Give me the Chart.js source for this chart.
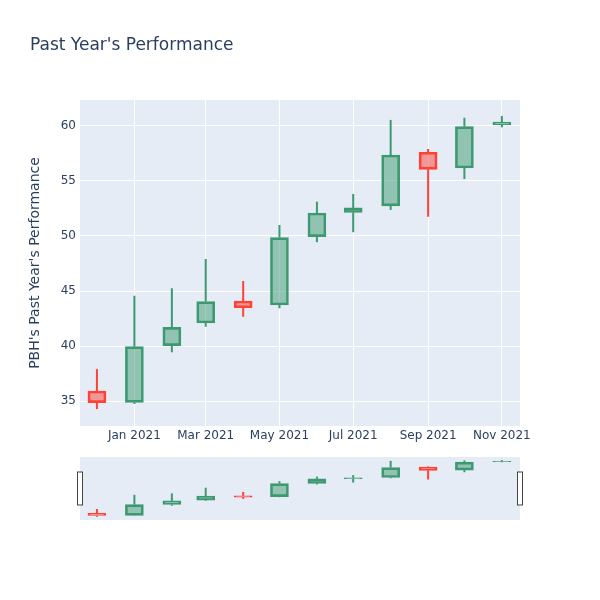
<!DOCTYPE html>
<html>
<head>
<meta charset="utf-8">
<script src="https://cdn.jsdelivr.net/npm/chart.js@4.4.0/dist/chart.umd.min.js"></script>
<style>
    body { margin: 0; background: #fff; }
    #wrap { position: relative; width: 600px; height: 600px; font-family: "DejaVu Sans", sans-serif; }
    #main { position: absolute; left: 0; top: 0; }
    #slider { position: absolute; left: 0; top: 450px; }
    #title { position: absolute; left: 30px; top: 32px; font-size: 17px; line-height: 24px; color: #2a3f5f; }
</style>
</head>
<body>
<div id="wrap">
    <canvas id="main" width="600" height="450" style="width:600px;height:450px"></canvas>
    <canvas id="slider" width="600" height="80" style="width:600px;height:80px"></canvas>
    <div id="title">Past Year's Performance</div>
</div>
<script>
// Monthly OHLC values for PBH
const dates  = ['2020-12-01', '2021-01-01', '2021-02-01', '2021-03-01', '2021-04-01', '2021-05-01',
                '2021-06-01', '2021-07-01', '2021-08-01', '2021-09-01', '2021-10-01', '2021-11-01'];
const opens  = [35.91, 34.88, 40.03, 42.09, 44.09, 43.73, 49.94, 52.15, 52.73, 57.61, 56.18, 60.12];
const highs  = [37.90, 44.57, 45.25, 47.91, 45.91, 51.00, 53.12, 53.82, 60.55, 57.91, 60.75, 60.91];
const lows   = [34.27, 34.73, 39.43, 41.75, 42.66, 43.43, 49.43, 50.34, 52.36, 51.75, 55.18, 59.88];
const closes = [34.85, 39.94, 41.70, 44.03, 43.48, 49.85, 52.09, 52.55, 57.36, 56.06, 59.94, 60.36];

// Axis ticks and ranges
const yTicks = [35, 40, 45, 50, 55, 60];
const xTickDates  = ['2021-01-01', '2021-03-01', '2021-05-01', '2021-07-01', '2021-09-01', '2021-11-01'];
const xTickLabels = ['Jan 2021', 'Mar 2021', 'May 2021', 'Jul 2021', 'Sep 2021', 'Nov 2021'];
const xRange = ['2020-11-17', '2021-11-16'];
const yRange = [32.73, 62.36];

const UP = '#3D9970', DOWN = '#FF4136';
const UP_FILL = 'rgba(61,153,112,0.5)', DOWN_FILL = 'rgba(255,65,54,0.5)';
const TEXT = '#2a3f5f';

Chart.defaults.font.family = '"DejaVu Sans", sans-serif';

const xs = dates.map(d => Date.parse(d));
const isUp = i => closes[i] >= opens[i];

function candleSets(bodyW, wickW) {
    const lineColor = ctx => isUp(ctx.dataIndex) ? UP : DOWN;
    return [
        {
            data: xs.map((x, i) => ({ x: x, y: [Math.min(opens[i], closes[i]), Math.max(opens[i], closes[i])] })),
            backgroundColor: ctx => isUp(ctx.dataIndex) ? UP_FILL : DOWN_FILL,
            borderColor: lineColor,
            borderWidth: 2,
            borderSkipped: false,
            barThickness: bodyW,
            grouped: false
        },
        {
            data: xs.map((x, i) => ({ x: x, y: [Math.max(opens[i], closes[i]), highs[i]] })),
            backgroundColor: lineColor,
            borderWidth: 0,
            inflateAmount: 0,
            barThickness: wickW,
            grouped: false
        },
        {
            data: xs.map((x, i) => ({ x: x, y: [lows[i], Math.min(opens[i], closes[i])] })),
            backgroundColor: lineColor,
            borderWidth: 0,
            inflateAmount: 0,
            barThickness: wickW,
            grouped: false
        }
    ];
}

// plot background colour
const plotBg = {
    id: 'plotBg',
    beforeDraw(chart) {
        const { ctx, chartArea: a } = chart;
        ctx.save();
        ctx.fillStyle = '#E5ECF6';
        ctx.fillRect(a.left, a.top, a.width, a.height);
        ctx.restore();
    }
};

// range slider grab handles
const sliderHandles = {
    id: 'sliderHandles',
    afterDraw(chart) {
        const { ctx, chartArea: a } = chart;
        const mid = (a.top + a.bottom) / 2;
        ctx.save();
        ctx.fillStyle = '#fff';
        ctx.strokeStyle = '#444';
        ctx.lineWidth = 1;
        [a.left, a.right].forEach(x => {
            ctx.fillRect(x - 2, mid - 16, 4, 32);
            ctx.strokeRect(x - 2.5, mid - 16.5, 5, 33);
        });
        ctx.restore();
    }
};

new Chart(document.getElementById('main'), {
    type: 'bar',
    data: { datasets: candleSets(18, 2) },
    plugins: [plotBg],
    options: {
        responsive: false,
        animation: false,
        layout: { padding: { top: 100, right: 80, left: 0, bottom: 0 } },
        plugins: { legend: { display: false }, tooltip: { enabled: false } },
        scales: {
            x: {
                type: 'linear',
                offset: false,
                min: Date.parse(xRange[0]),
                max: Date.parse(xRange[1]),
                afterBuildTicks: s => { s.ticks = xTickDates.map(d => ({ value: Date.parse(d) })); },
                afterFit: s => { s.height = 24; },
                ticks: {
                    callback: (v, i) => xTickLabels[i],
                    color: TEXT,
                    font: { size: 12 },
                    padding: 3,
                    maxRotation: 0,
                    autoSkip: false
                },
                grid: { color: '#fff', drawTicks: false, offset: false },
                border: { display: false }
            },
            y: {
                min: yRange[0],
                max: yRange[1],
                afterBuildTicks: s => { s.ticks = yTicks.map(v => ({ value: v })); },
                afterFit: s => { s.width = 80; },
                ticks: { color: TEXT, font: { size: 12 }, padding: 4 },
                grid: { color: '#fff', drawTicks: false },
                border: { display: false },
                title: {
                    display: true,
                    text: "PBH's Past Year's Performance",
                    color: TEXT,
                    font: { size: 14 },
                    padding: { top: 27, bottom: 0 }
                }
            }
        }
    }
});

new Chart(document.getElementById('slider'), {
    type: 'bar',
    data: { datasets: candleSets(18, 2) },
    plugins: [plotBg, sliderHandles],
    options: {
        responsive: false,
        animation: false,
        layout: { padding: { top: 7, right: 80, left: 80, bottom: 10 } },
        plugins: { legend: { display: false }, tooltip: { enabled: false } },
        scales: {
            x: { type: 'linear', display: false, offset: false, min: Date.parse(xRange[0]), max: Date.parse(xRange[1]) },
            y: { display: false, min: yRange[0], max: yRange[1] }
        }
    }
});
</script>
</body>
</html>
